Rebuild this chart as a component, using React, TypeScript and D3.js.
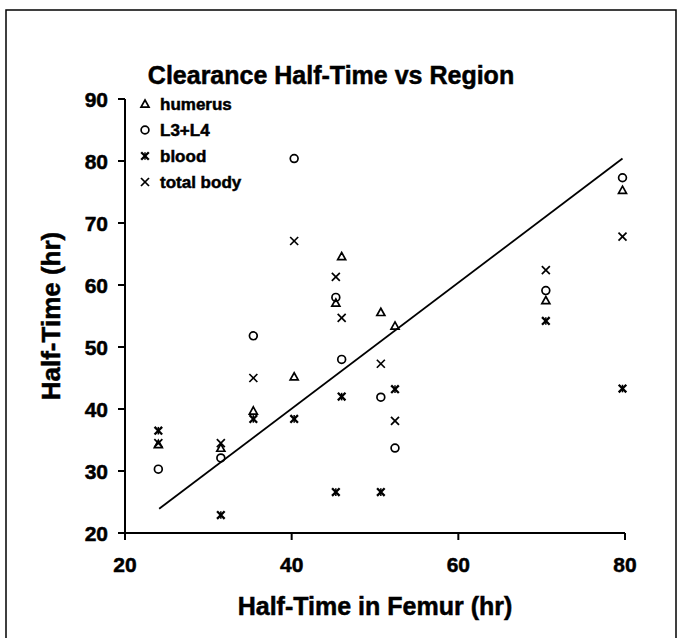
import React from "react";
import * as d3 from "d3";

const femur = [24, 31.5, 35.4, 40.3, 45.3, 46.0, 50.7, 52.4, 70.5, 79.7];
const humerus = [34.3, 33.7, 39.7, 45.2, 57.1, 64.6, 55.6, 53.4, 57.5, 75.3];
const l3l4 = [30.3, 32.1, 51.8, 80.4, 58.0, 48.0, 41.9, 33.7, 59.1, 77.3];
const blood = [36.5, 22.9, 38.4, 38.4, 26.6, 42.0, 26.6, 43.2, 54.2, 43.3];
const totalBody = [34.5, 34.5, 45.0, 67.1, 61.3, 54.7, 47.3, 38.1, 62.4, 67.8];
const fitX = [24.1, 79.7];
const fitY = [23.9, 80.4];
const xTicks = [20, 40, 60, 80];
const yTicks = [20, 30, 40, 50, 60, 70, 80, 90];
const legendLabels = ["humerus", "L3+L4", "blood", "total body"];
const markerTypes = ["triangle", "circle", "star", "cross"];

const W = 683;
const H = 638;
const FONT = "'Liberation Sans', Arial, Helvetica, sans-serif";

function Marker({ type, x, y }: { type: string; x: number; y: number }) {
  if (type === "triangle") {
    const s = 4;
    return (
      <path
        d={`M${x},${y - s}L${x + s},${y + s * 0.8}L${x - s},${y + s * 0.8}Z`}
        fill="none"
        stroke="#000"
        strokeWidth={1.7}
      />
    );
  }
  if (type === "circle") {
    return <circle cx={x} cy={y} r={3.9} fill="none" stroke="#000" strokeWidth={1.7} />;
  }
  if (type === "star") {
    const s = 3.8;
    return (
      <g stroke="#000" strokeWidth={2.3}>
        <line x1={x - s} y1={y - s} x2={x + s} y2={y + s} />
        <line x1={x - s} y1={y + s} x2={x + s} y2={y - s} />
        <line x1={x} y1={y - s} x2={x} y2={y + s} strokeWidth={1.5} />
      </g>
    );
  }
  const s = 4;
  return (
    <g stroke="#000" strokeWidth={1.7}>
      <line x1={x - s} y1={y - s} x2={x + s} y2={y + s} />
      <line x1={x - s} y1={y + s} x2={x + s} y2={y - s} />
    </g>
  );
}

export default function App() {
  const x = d3.scaleLinear().domain([20, 80]).range([125, 625]);
  const y = d3.scaleLinear().domain([20, 90]).range([533, 99]);
  const series = [humerus, l3l4, blood, totalBody];
  const line = d3
    .line<number>()
    .x((d) => x(d))
    .y((_, i) => y(fitY[i]));
  const textStroke = { stroke: "#000", strokeWidth: 0.5 };

  return (
    <svg
      width={W}
      height={H}
      style={{ position: "absolute", left: 0, top: 0, background: "#fff" }}
      fontFamily={FONT}
    >
      <rect x={6} y={10} width={670} height={640} fill="#fff" stroke="#000" strokeWidth={1.5} />
      <text x={331} y={84} textAnchor="middle" fontSize={25} fontWeight="bold" {...textStroke}>
        Clearance Half-Time vs Region
      </text>

      {/* axes */}
      <line x1={x(20)} y1={y(20)} x2={x(80)} y2={y(20)} stroke="#000" strokeWidth={2.2} />
      <line x1={x(20)} y1={y(20)} x2={x(20)} y2={y(90)} stroke="#000" strokeWidth={2} />
      {xTicks.map((t) => (
        <g key={"x" + t}>
          <line x1={x(t)} y1={y(20)} x2={x(t)} y2={y(20) + 7} stroke="#000" strokeWidth={2} />
          <text x={x(t)} y={y(20) + 39} textAnchor="middle" fontSize={21} fontWeight="bold" {...textStroke}>
            {t}
          </text>
        </g>
      ))}
      {yTicks.map((t) => (
        <g key={"y" + t}>
          <line x1={x(20) - 7} y1={y(t)} x2={x(20)} y2={y(t)} stroke="#000" strokeWidth={2} />
          <text x={x(20) - 17} y={y(t) + 7.5} textAnchor="end" fontSize={21} fontWeight="bold" {...textStroke}>
            {t}
          </text>
        </g>
      ))}

      <text x={375} y={615} textAnchor="middle" fontSize={25} fontWeight="bold" {...textStroke}>
        Half-Time in Femur (hr)
      </text>
      <text
        transform={`translate(60,${y(55)}) rotate(-90)`}
        textAnchor="middle"
        fontSize={26}
        fontWeight="bold"
        {...textStroke}
      >
        Half-Time (hr)
      </text>

      {/* fit line */}
      <path d={line(fitX) || ""} fill="none" stroke="#000" strokeWidth={1.8} />

      {/* points */}
      {series.map((vals, si) =>
        vals.map((v, i) => (
          <Marker key={si + "-" + i} type={markerTypes[si]} x={x(femur[i])} y={y(v)} />
        ))
      )}

      {/* legend */}
      {legendLabels.map((lab, i) => (
        <g key={lab}>
          <Marker type={markerTypes[i]} x={145} y={104 + i * 26} />
          <text x={160} y={104 + i * 26 + 6} fontSize={17} fontWeight="bold" {...textStroke}>
            {lab}
          </text>
        </g>
      ))}
    </svg>
  );
}
